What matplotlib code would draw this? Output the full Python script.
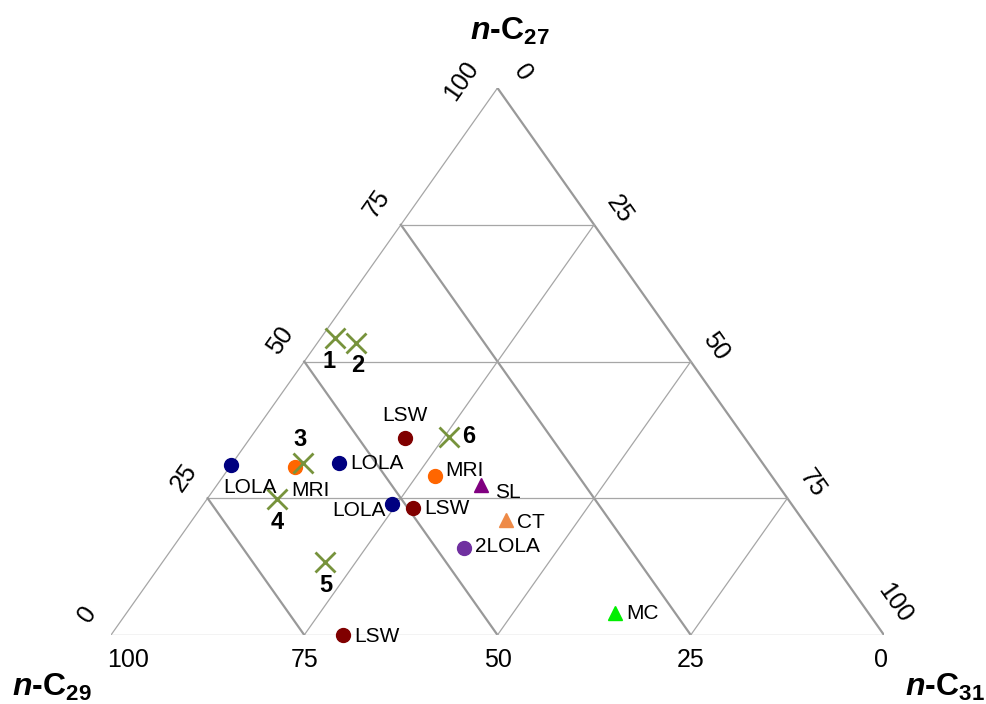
import matplotlib
matplotlib.use("Agg")
import matplotlib.pyplot as plt
import numpy as np

plt.rcParams['font.family'] = ['Liberation Sans', 'DejaVu Sans']
plt.rcParams['mathtext.fontset'] = 'custom'
plt.rcParams['mathtext.it'] = 'Liberation Sans:italic:bold'
plt.rcParams['mathtext.rm'] = 'Liberation Sans:bold'
plt.rcParams['mathtext.bf'] = 'Liberation Sans:bold'

# Sediment / sample chain-length composition (% of n-C27 + n-C29 + n-C31)
sample_names = ["LOLA", "MRI", "LOLA", "LSW", "LOLA", "LSW", "MRI", "SL", "CT", "2LOLA", "MC", "LSW"]
sample_c27 = [31.0, 30.7, 31.4, 36.0, 24.0, 23.2, 29.1, 27.4, 21.0, 15.9, 4.0, 0.0]
sample_c29 = [69.0, 60.8, 54.8, 44.0, 51.7, 49.3, 43.6, 38.4, 38.4, 46.4, 32.8, 70.0]
sample_c31 = [0.0, 8.5, 13.8, 20.0, 24.3, 27.5, 27.3, 34.2, 40.6, 37.7, 63.2, 30.0]
sample_colors = ["#000080", "#FF6600", "#000080", "#800000", "#000080", "#800000",
                 "#FF6600", "#800080", "#EE8A47", "#7030A0", "#00EE00", "#800000"]
sample_markers = ["o", "o", "o", "o", "o", "o", "o", "^", "^", "o", "^", "o"]

# Numbered plant samples
plant_ids = ["1", "2", "3", "4", "5", "6"]
plant_c27 = [54.3, 53.4, 31.4, 24.9, 13.3, 36.2]
plant_c29 = [43.9, 41.6, 59.5, 66.1, 65.7, 38.2]
plant_c31 = [1.8, 5.0, 9.1, 9.0, 21.0, 25.6]

ticks = [0, 25, 50, 75, 100]


def tern(c27, c29, c31):
    c27 = np.asarray(c27, float)
    c29 = np.asarray(c29, float)
    c31 = np.asarray(c31, float)
    tot = c27 + c29 + c31
    a = c27 / tot
    c = c31 / tot
    return c + a / 2.0, a


W, H = 987, 704
fig = plt.figure(figsize=(W / 100, H / 100), dpi=100)
x0, x1, ytop, ybot = 111, 884, 88, 635
ax = fig.add_axes([x0 / W, (H - ybot) / H, (x1 - x0) / W, (ybot - ytop) / H])
ax.set_xlim(0, 1)
ax.set_ylim(0, 1)
ax.axis("off")

thin = dict(color="#A6A6A6", lw=0.9, zorder=1)
thick = dict(color="#999999", lw=1.6, zorder=1)

# outer triangle
for p, q, st in [((0, 100, 0), (0, 0, 100), thin),      # bottom
                 ((0, 100, 0), (100, 0, 0), thin),      # left
                 ((100, 0, 0), (0, 0, 100), thick)]:    # right
    xa, ya = tern(*p)
    xb, yb = tern(*q)
    ax.plot([xa, xb], [ya, yb], solid_capstyle="round", **st)

# grid lines
for k in [25, 50, 75]:
    # constant n-C27
    xa, ya = tern(k, 100 - k, 0)
    xb, yb = tern(k, 0, 100 - k)
    ax.plot([xa, xb], [ya, yb], **thin)
    # constant n-C29
    xa, ya = tern(100 - k, k, 0)
    xb, yb = tern(0, k, 100 - k)
    ax.plot([xa, xb], [ya, yb], **thick)
    # constant n-C31
    xa, ya = tern(100 - k, 0, k)
    xb, yb = tern(0, 100 - k, k)
    ax.plot([xa, xb], [ya, yb], **thin)

tick_fs = 18
# left axis: n-C27
for t in ticks:
    x, y = tern(t, 100 - t, 0)
    off = (-26, 5) if t == 100 else (-17, 15)
    ax.annotate(str(t), (x, y), xytext=off, textcoords="offset points",
                ha="center", va="center", rotation=55, fontsize=tick_fs)
# right axis: n-C31
for t in ticks:
    x, y = tern(100 - t, 0, t)
    off = (8, 23) if t == 100 else (18, 11)
    ax.annotate(str(t), (x, y), xytext=off, textcoords="offset points",
                ha="center", va="center", rotation=-55, fontsize=tick_fs)
# bottom axis: n-C29
for t in ticks:
    x, y = tern(0, t, 100 - t)
    dx = 12 if t == 100 else (-2 if t == 0 else 0)
    ax.annotate(str(t), (x, y), xytext=(dx, -18), textcoords="offset points",
                ha="center", va="center", fontsize=tick_fs)

# axis titles
title_kw = dict(fontsize=23, fontweight="bold", ha="center", va="center",
                transform=fig.transFigure)
fig.text(510 / W, 1 - 31 / H, r"$n$-C$_{27}$", **title_kw)
fig.text(52 / W, 1 - 687 / H, r"$n$-C$_{29}$", **title_kw)
fig.text(945 / W, 1 - 687 / H, r"$n$-C$_{31}$", **title_kw)

# sample points
sx, sy = tern(sample_c27, sample_c29, sample_c31)
label_off = [(14, -16, "center"), (11, -17, "center"), (8, 0, "left"), (0, 16, "center"),
             (-4, -5, "right"), (8, 0, "left"), (8, 4, "left"), (10, -5, "left"),
             (8, -2, "left"), (8, 1, "left"), (8, 0, "left"), (8, -1, "left")]
for i, name in enumerate(sample_names):
    ax.plot(sx[i], sy[i], marker=sample_markers[i], color=sample_colors[i],
            markersize=10 if sample_markers[i] == "o" else 10.5, linestyle="none",
            clip_on=False, zorder=4)
    dx, dy, ha = label_off[i]
    ax.annotate(name, (sx[i], sy[i]), xytext=(dx, dy), textcoords="offset points",
                ha=ha, va="center", fontsize=15, zorder=5)

# plant samples
px, py = tern(plant_c27, plant_c29, plant_c31)
plant_off = [(-4, -17), (1, -16), (-2, 17), (0, -17), (1, -17), (14, 0)]
for i, pid in enumerate(plant_ids):
    ax.plot(px[i], py[i], marker="x", color="#77933C", markersize=15,
            markeredgewidth=2, linestyle="none", clip_on=False, zorder=4)
    dx, dy = plant_off[i]
    ax.annotate(pid, (px[i], py[i]), xytext=(dx, dy), textcoords="offset points",
                ha="center", va="center", fontsize=17, fontweight="bold", zorder=5)

fig.savefig("out.png", dpi=100)
